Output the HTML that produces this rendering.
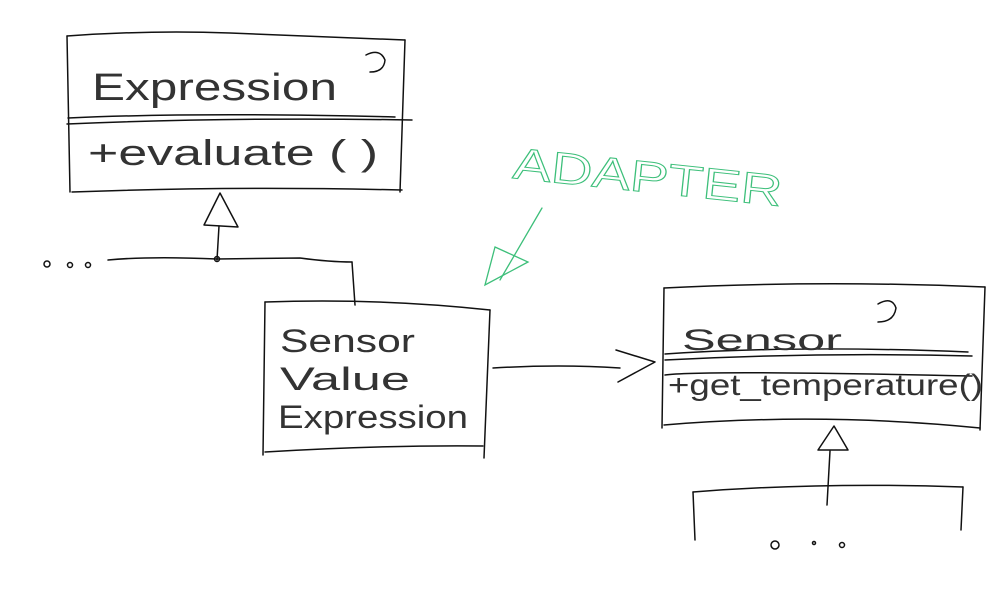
<!DOCTYPE html>
<html><head><meta charset="utf-8"><style>
html,body{margin:0;padding:0;background:#fff;}
svg{display:block}
text{font-family:"Liberation Sans",sans-serif;}
</style></head><body>
<svg width="1000" height="600" viewBox="0 0 1000 600" xmlns="http://www.w3.org/2000/svg">
<g fill="none" stroke="#111" stroke-width="1.5" stroke-linecap="round" stroke-linejoin="round">
<!-- Box 1 -->
<path d="M67 36 Q150 30 230 33 T405 40"/>
<path d="M67 36 L70 192"/>
<path d="M405 40 L400 192"/>
<path d="M68 118 Q200 112 395 117"/>
<path d="M67 124 Q230 117 412 120"/>
<path d="M72 192 Q230 186 402 190"/>
<path d="M366 55 Q380 48 385 60 Q384 72 370 72"/>
<!-- triangle 1 -->
<path d="M220 193 L204 225 L238 227 Z"/>
<path d="M219 226 L217 260"/>
<circle cx="217" cy="259" r="2.5"/>
<path d="M108 260 Q150 256 217 259 L300 258 Q330 262 352 262"/>
<path d="M352 262 L355 305"/>
<!-- Box 2 -->
<path d="M265 302 Q380 298 490 310"/>
<path d="M265 302 L263 455"/>
<path d="M490 310 L484 458"/>
<path d="M265 452 Q380 445 483 446"/>
<!-- association arrow -->
<path d="M493 368 Q560 364 620 368"/>
<path d="M616 350 L655 362 L618 382"/>
<!-- Box 3 -->
<path d="M664 288 Q820 280 985 287"/>
<path d="M664 288 L662 428"/>
<path d="M985 287 L980 430"/>
<path d="M665 354 Q800 345 968 352"/>
<path d="M665 360 Q820 352 972 356"/>
<path d="M665 375 Q700 370 972 376"/>
<path d="M664 425 Q820 412 980 428"/>
<path d="M878 304 Q892 296 896 308 Q894 322 878 322"/>
<!-- triangle 2 -->
<path d="M834 426 L818 450 L848 450 Z"/>
<path d="M830 451 L827 505"/>
<path d="M693 492 Q820 482 963 487"/>
<path d="M693 492 L695 540"/>
<path d="M963 487 L961 530"/>
<!-- dots -->
<circle cx="47" cy="264" r="3"/><circle cx="70" cy="265" r="2.5"/><circle cx="88" cy="265" r="2.5"/>
<circle cx="775" cy="545" r="4"/><circle cx="814" cy="543" r="1.5"/><circle cx="842" cy="545" r="2.5"/>
</g>
<!-- green -->
<g fill="none" stroke="#3dbf7a" stroke-width="1.3" stroke-linecap="round">
<path d="M542 208 L500 280"/>
<path d="M495 247 L528 262 L485 285 Z"/>
</g>
<text x="512" y="178" font-size="44" fill="none" stroke="#3dbf7a" stroke-width="1" transform="rotate(6 512 178)" textLength="270" lengthAdjust="spacingAndGlyphs">ADAPTER</text>
<g fill="#333" stroke="none">
<text x="92" y="100" font-size="38" textLength="245" lengthAdjust="spacingAndGlyphs">Expression</text>
<text x="88" y="165" font-size="36" textLength="290" lengthAdjust="spacingAndGlyphs">+evaluate ( )</text>
<text x="280" y="352" font-size="32" textLength="135" lengthAdjust="spacingAndGlyphs">Sensor</text>
<text x="280" y="390" font-size="32" textLength="130" lengthAdjust="spacingAndGlyphs">Value</text>
<text x="278" y="428" font-size="32" textLength="190" lengthAdjust="spacingAndGlyphs">Expression</text>
<text x="682" y="350" font-size="30" textLength="160" lengthAdjust="spacingAndGlyphs">Sensor</text>
<text x="668" y="395" font-size="30" textLength="315" lengthAdjust="spacingAndGlyphs">+get_temperature()</text>
</g>
</svg>
</body></html>
